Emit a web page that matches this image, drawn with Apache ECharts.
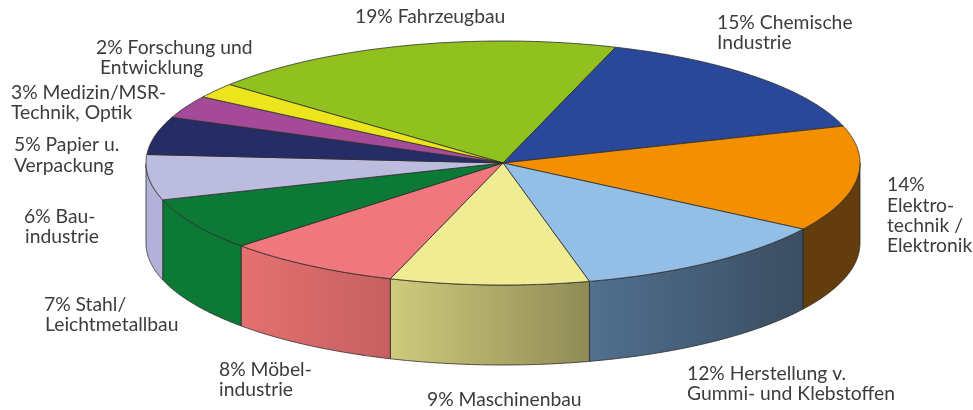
<!DOCTYPE html>
<html>
<head>
<meta charset="utf-8">
<style>
  html, body { margin: 0; padding: 0; background: #fff; }
  #chart { width: 973px; height: 410px; }
</style>
</head>
<body>
<div id="chart"></div>
<script src="https://cdn.jsdelivr.net/npm/echarts@6/dist/echarts.min.js"></script>
<script>
// Anteile in Prozent, im Uhrzeigersinn ab Fahrzeugbau
var branchen = [
  ['19% Fahrzeugbau'],
  ['15% Chemische', 'Industrie'],
  ['14%', 'Elektro-', 'technik /', 'Elektronik'],
  ['12% Herstellung v.', 'Gummi- und Klebstoffen'],
  ['9% Maschinenbau'],
  ['8% Möbel-', 'industrie'],
  ['7% Stahl/', 'Leichtmetallbau'],
  ['6% Bau-', 'industrie'],
  ['5% Papier u.', 'Verpackung'],
  ['3% Medizin/MSR-', 'Technik, Optik'],
  ['2% Forschung und', 'Entwicklung']
];
var anteile = [19, 15, 14, 12, 9, 8, 7, 6, 5, 3, 2];

var farben = ['#90c11f', '#2a4899', '#f49000', '#93bfe6', '#f0ec94', '#f0777b', '#0c7a36', '#bcbcde', '#262c66', '#a44a98', '#ece41c'];
// Seitenwand: Farbe links, Farbe rechts
var wandLinks = ['#000', '#000', '#643d0e', '#50708f', '#cfcb7c', '#e57070', '#0c7a36', '#b3b1d8', '#000', '#000', '#000'];
var wandRechts = ['#000', '#000', '#643d0e', '#3b4d61', '#8f8b56', '#c66060', '#0c7a36', '#b3b1d8', '#000', '#000', '#000'];

// linke Kante und Mitte der ersten Zeile je Beschriftung, Zeilenabstand, Einzug ab Zeile 2
var labelX = [355, 717, 887, 687, 427, 219, 44, 24, 14, 11, 96];
var labelY = [17, 23, 185, 374, 400, 370, 305, 217, 145, 93, 48];
var labelZeile = [20, 20, 20.3, 20, 20, 20, 20, 20, 21, 20, 20];
var labelEinzug = [0, 0, 0, 0, 0, 0, 1, 1, 0, 0, 4];

var cx = 503, cy = 163, rx = 357, ry = 122, tiefe = 80;
var quetsch = ry / rx;

// kumulierte Grenzen fuer die Segmente
var summe = 0;
var segmente = anteile.map(function (v, i) {
  var s = summe;
  summe += v;
  return [s, summe, i];
});

function punkt(api, v) {
  var p = api.coord([1, v]);
  return [p[0], cy + (p[1] - cy) * quetsch];
}

function renderWand(params, api) {
  var i = api.value(2);
  var pts = [];
  for (var v = api.value(0); v <= api.value(1) + 0.001; v += 0.1) {
    var p = punkt(api, v);
    if (p[1] >= cy) pts.push(p);
  }
  if (pts.length < 2) return { type: 'group', children: [] };
  var unten = pts.map(function (p) { return [p[0], p[1] + tiefe]; }).reverse();
  return {
    type: 'polygon',
    shape: { points: pts.concat(unten) },
    style: {
      fill: new echarts.graphic.LinearGradient(0, 0, 1, 0, [
        { offset: 0, color: wandLinks[i] },
        { offset: 1, color: wandRechts[i] }
      ]),
      stroke: '#2b2b2b',
      lineWidth: 0.8
    }
  };
}

function renderDeckel(params, api) {
  var i = api.value(2);
  var pts = [[api.coord([0, 0])[0], cy]];
  for (var v = api.value(0); v <= api.value(1) + 0.001; v += 0.1) {
    pts.push(punkt(api, v));
  }
  return {
    type: 'polygon',
    shape: { points: pts },
    style: { fill: farben[i], stroke: '#2b2b2b', lineWidth: 0.8 }
  };
}

// Beschriftungen als echter Text
var texte = [];
branchen.forEach(function (zeilen, i) {
  zeilen.forEach(function (t, k) {
    texte.push({
      type: 'text',
      x: labelX[i] + (k > 0 ? labelEinzug[i] : 0),
      y: labelY[i] + k * labelZeile[i],
      style: {
        text: t,
        fill: '#3c3c3c',
        font: '19.3px Lato',
        textVerticalAlign: 'middle'
      }
    });
  });
});

var chart = echarts.init(document.getElementById('chart'), null, { renderer: 'canvas' });
chart.setOption({
  animation: false,
  backgroundColor: '#fff',
  polar: { center: [cx, cy], radius: rx },
  // Start 140 Grad: Grenze Entwicklung/Fahrzeugbau liegt links oben
  angleAxis: { type: 'value', min: 0, max: 100, startAngle: 140, clockwise: true, show: false },
  radiusAxis: { type: 'value', min: 0, max: 1, show: false },
  graphic: texte,
  series: [
    {
      type: 'custom',
      coordinateSystem: 'polar',
      data: segmente,
      renderItem: renderWand,
      z: 1,
      silent: true
    },
    {
      type: 'custom',
      coordinateSystem: 'polar',
      data: segmente,
      renderItem: renderDeckel,
      z: 2,
      silent: true
    }
  ]
});
</script>
</body>
</html>
